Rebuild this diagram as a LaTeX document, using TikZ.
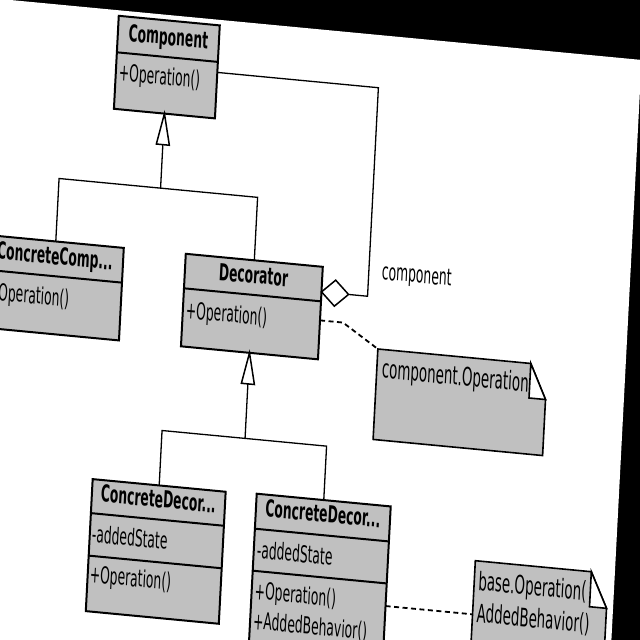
\documentclass[tikz,border=0pt]{standalone}
\usepackage{fontspec}
\setmainfont{DejaVu Sans}
\definecolor{boxgray}{RGB}{192,192,192}
\begin{document}
\begin{tikzpicture}[x=1pt,y=1pt]
\useasboundingbox (0,0) rectangle (640,-640);
\clip (0,0) rectangle (640,-640);
\fill[black] (0,0) rectangle (640,-640);
\begin{scope}[x=1pt,y=-0.526316pt,cm={1,-0.095,0.0988,1.9,(0,0)},transform shape,
  cls/.style={rectangle,draw=black,fill=boxgray,line width=2pt,inner sep=0pt,outer sep=0pt,anchor=north west},
  div/.style={line width=2pt},
  conn/.style={line width=1.3pt,line join=miter},
  tri/.style={draw=black,fill=white,line width=1.5pt,line join=miter},
  dashedconn/.style={line width=1.8pt,dash pattern=on 5pt off 3.5pt},
  notebox/.style={draw=black,fill=boxgray,line width=1.6pt,line join=miter},
  hdr/.style={font=\bfseries\fontsize{12.3}{14}\selectfont,anchor=base,inner sep=0pt},
  txt/.style={font=\fontsize{12.3}{14}\selectfont,anchor=base west,inner sep=0pt},
  ntxt/.style={font=\fontsize{13.4}{15}\selectfont,anchor=base west,inner sep=0pt}]
% paper
\fill[white] (-400,-1) -- (641.5,-1) -- (641.5,1400) -- (-400,1400) -- cycle;

% class boxes
\node[cls,minimum width=101pt,minimum height=48.947pt] (comp) at (119,4.5) {};
\draw[div] (119,41) -- (220,41);
\node[cls,minimum width=136pt,minimum height=48.684pt] (cc) at (0,235) {};
\draw[div] (0,269.7) -- (136,269.7);
\node[cls,minimum width=137pt,minimum height=48.684pt] (dec) at (198,235) {};
\draw[div] (198,269.5) -- (335,269.5);
\node[cls,minimum width=133pt,minimum height=69.474pt] (cd1) at (117,468) {};
\draw[div] (117,502) -- (250,502);
\draw[div] (117,544.5) -- (250,544.5);
\node[cls,minimum width=134pt,minimum height=112.105pt] (cd2) at (281,467) {};
\draw[div] (281,502) -- (415,502);
\draw[div] (281,544) -- (415,544);

% texts
\node[hdr] (compT) at (169.5,29) {Component};
\node[txt] (compO) at (122,69) {+Operation()};
\node[hdr] (ccT) at (68,258) {ConcreteComp...};
\node[txt] (ccO) at (3,299) {+Operation()};
\node[hdr] (decT) at (266.5,258) {Decorator};
\node[txt] (decO) at (201,299) {+Operation()};
\node[hdr] (cd1T) at (183.5,490) {ConcreteDecor...};
\node[txt] (cd1A) at (119,531) {-addedState};
\node[txt] (cd1O) at (119,571) {+Operation()};
\node[hdr] (cd2T) at (348,489) {ConcreteDecor...};
\node[txt] (cd2A) at (284,531) {-addedState};
\node[txt] (cd2O) at (284,572) {+Operation()};
\node[txt] (cd2B) at (284,602) {+AddedBehavior()};
\node[txt] (lbl) at (394,242) {component};

% coordinates
\coordinate (t1b1) at (163,128.5);
\coordinate (t1b2) at (176,128.5);
\coordinate (t1m) at (169.5,128.5);
\coordinate (j1) at (169.5,172);
\coordinate (h1l) at (68,172);
\coordinate (h1r) at (266.5,172);
\coordinate (t2b1) at (260,358.5);
\coordinate (t2b2) at (273,358.5);
\coordinate (t2m) at (266.5,358.5);
\coordinate (j2) at (266.5,413);
\coordinate (h2l) at (183.5,413);
\coordinate (h2r) at (348,413);
\coordinate (dl) at (335,260);
\coordinate (dt) at (348.5,247);
\coordinate (dr) at (362,260);
\coordinate (db) at (348.5,273);
\coordinate (a1) at (381,260);
\coordinate (a2) at (381,51.5);
\coordinate (a3) at (220,51.5);
\coordinate (d1s) at (335,288.5);
\coordinate (d1m) at (358,288.5);
\coordinate (n1) at (394,311.5);
\coordinate (d2s) at (415,566.5);
\coordinate (n2) at (502,566.5);

% generalisation connectors
\draw[conn] (t1m) -- (j1);
\draw[conn] (cc.north) -- (h1l) -- (h1r) -- (dec.north);
\draw[tri] (comp.south) -- (t1b1) -- (t1b2) -- cycle;
\draw[conn] (t2m) -- (j2);
\draw[conn] (cd1.north) -- (h2l) -- (h2r) -- (cd2.north);
\draw[tri] (dec.south) -- (t2b1) -- (t2b2) -- cycle;

% aggregation
\draw[conn] (dr) -- (a1) -- (a2) -- (a3);
\draw[tri] (dl) -- (dt) -- (dr) -- (db) -- cycle;

% notes
\draw[notebox] (n1) -- (547,311.5) -- (563.5,346) -- (563.5,402) -- (394,402) -- cycle;
\draw[notebox,fill=white] (547,311.5) -- (547,346) -- (563.5,346) -- cycle;
\begin{scope}
\clip (394,300) -- (547,300) -- (547,410) -- (394,410) -- cycle;
\node[ntxt] (n1T) at (399,340) {component.Operation};
\end{scope}
\draw[notebox] (502,513) -- (618,513) -- (635,548) -- (635,1000) -- (502,1000) -- cycle;
\draw[notebox,fill=white] (618,513) -- (618,548) -- (635,548) -- cycle;
\begin{scope}
\clip (502,500) -- (618,500) -- (618,1000) -- (502,1000) -- cycle;
\node[ntxt] (n2a) at (506,542) {base.Operation(};
\node[ntxt] (n2b) at (506,574) {AddedBehavior()};
\end{scope}

% note connectors
\draw[dashedconn] (d1s) -- (d1m) -- (n1);
\draw[dashedconn] (d2s) -- (n2);
\end{scope}
\end{tikzpicture}
\end{document}
